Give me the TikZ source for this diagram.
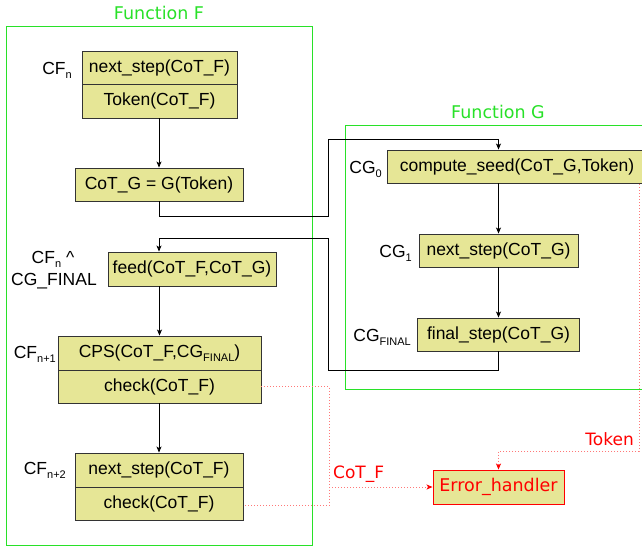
\documentclass[tikz,border=0pt]{standalone}
\usepackage{fontspec}
\setmainfont{Liberation Sans}
\newfontfamily\dejavu{DejaVu Sans}
\usetikzlibrary{arrows.meta}
\definecolor{boxfill}{RGB}{230,230,150}
\definecolor{fgreen}{RGB}{40,225,40}
\definecolor{lred}{RGB}{255,120,120}
\newcommand\lsub[1]{\raisebox{-0.45ex}{\fontsize{11}{11}\selectfont #1}}
\begin{document}
\begin{tikzpicture}[x=1pt,y=-1pt,
  every node/.style={font=\fontsize{17.5}{21}\selectfont},
  fbox/.style={draw=black!80,fill=boxfill,line width=0.9pt,inner sep=0pt,anchor=center},
  lab/.style={inner sep=0pt,anchor=base east},
  grp/.style={draw=fgreen,line width=1pt},
  glabel/.style={text=fgreen,inner sep=0pt,anchor=base,font=\dejavu\fontsize{17.5}{21}\selectfont},
  rlab/.style={text=red,inner sep=0pt,font=\dejavu\fontsize{17}{21}\selectfont},
  arr/.style={draw=black,line width=0.8pt,-{Stealth[length=6pt,width=5pt,inset=1.5pt]}},
  rdot/.style={draw=lred,line width=1pt,dash pattern=on 1pt off 2pt},
  rarr/.style={rdot,-{Stealth[length=6pt,width=5pt,inset=1.5pt,red]}}
]
\fill[white] (0,0) rectangle (642,546);
% group frames
\draw[grp] (6,26) rectangle (312,545);
\node[glabel] (flab) at (159,19) {Function F};
\draw[grp] (345.5,125.5) rectangle (660,389.5);
\node[glabel] (glab) at (498,118) {Function G};

% Function F boxes
\node[fbox,minimum width=155pt,minimum height=33pt] (f1a) at (159.5,67.5) {next\_step(CoT\_F)};
\node[fbox,minimum width=155pt,minimum height=34pt] (f1b) at (159.5,101) {Token(CoT\_F)};
\node[fbox,minimum width=168pt,minimum height=33pt] (fg) at (159,184.5) {CoT\_G = G(Token)};
\node[fbox,minimum width=168pt,minimum height=34pt] (ffeed) at (192,269) {feed(CoT\_F,CoT\_G)};
\node[fbox,minimum width=203pt,minimum height=34pt] (fcpsa) at (159.5,353) {CPS(CoT\_F,CG\lsub{FINAL})};
\node[fbox,minimum width=203pt,minimum height=33pt] (fcpsb) at (159.5,386.5) {check(CoT\_F)};
\node[fbox,minimum width=168pt,minimum height=34pt] (fn2a) at (159,470) {next\_step(CoT\_F)};
\node[fbox,minimum width=168pt,minimum height=33pt] (fn2b) at (159,503.5) {check(CoT\_F)};

% Function G boxes
\node[fbox,minimum width=270pt,minimum height=33pt] (gseed) at (522,166.5) {};
\node[inner sep=0pt,anchor=center] (gseedt) at (517,166.5) {compute\_seed(CoT\_G,Token)};
\node[fbox,minimum width=159pt,minimum height=33pt] (gnext) at (498.5,250.5) {next\_step(CoT\_G)};
\node[fbox,minimum width=162pt,minimum height=33pt] (gfinal) at (498.5,334.5) {final\_step(CoT\_G)};

% Error handler
\node[fbox,draw=red,minimum width=131pt,minimum height=34pt,text=red,font=\dejavu\fontsize{17.5}{21}\selectfont] (err) at (498.5,487) {Error\_handler};

% side labels
\node[lab] (lcfn) at (72,74) {CF\lsub{n}};
\node[inner sep=0pt,anchor=base] (lcfg1) at (53,263) {CF\lsub{n} \^{}};
\node[inner sep=0pt,anchor=base] (lcfg2) at (54,285) {CG\_FINAL};
\node[lab] (lcfn1) at (56,358) {CF\lsub{n+1}};
\node[lab] (lcfn2) at (66,474.5) {CF\lsub{n+2}};
\node[lab] (lcg0) at (382,173) {CG\lsub{0}};
\node[lab] (lcg1) at (412,257) {CG\lsub{1}};
\node[lab] (lcgf) at (411,341) {CG\lsub{FINAL}};

% black connectors
\draw[arr] (f1b.south -| fg.north) -- (fg.north);
\coordinate (c1) at (328,216);
\coordinate (c2) at (328,139);
\draw[arr] (fg.south) |- (c1) -- (c2) -| (gseed.north -| gnext.north);
\draw[arr] (gseed.south -| gnext.north) -- (gnext.north);
\draw[arr] (gnext.south) -- (gfinal.north);
\coordinate (c3) at (328,370);
\coordinate (c4) at (328,238);
\draw[arr] (gfinal.south) |- (c3) -- (c4) -| (ffeed.north -| fg.south);
\draw[arr] (ffeed.south -| fcpsa.north) -- (fcpsa.north);
\draw[arr] (fcpsb.south -| fn2a.north) -- (fn2a.north);

% red dotted connectors
\coordinate (r1) at (329,386.5);
\coordinate (r2) at (329,505.5);
\draw[rdot] (fcpsb.east) -- (r1) -- (r2) -- (fn2b.east |- r2);
\draw[rarr] (err.west -| r1) -- (err.west);
\coordinate (t1) at (639,184);
\coordinate (t2) at (639,451);
\draw[rarr] (t1) -- (t2) -| (err.north);

% red labels
\node[rlab,anchor=base west] (lcotf) at (333,478) {CoT\_F};
\node[rlab,anchor=base east] (ltok) at (634,445) {Token};
\pgfresetboundingbox
\useasboundingbox (0,0) rectangle (642,546);
\end{tikzpicture}
\end{document}
